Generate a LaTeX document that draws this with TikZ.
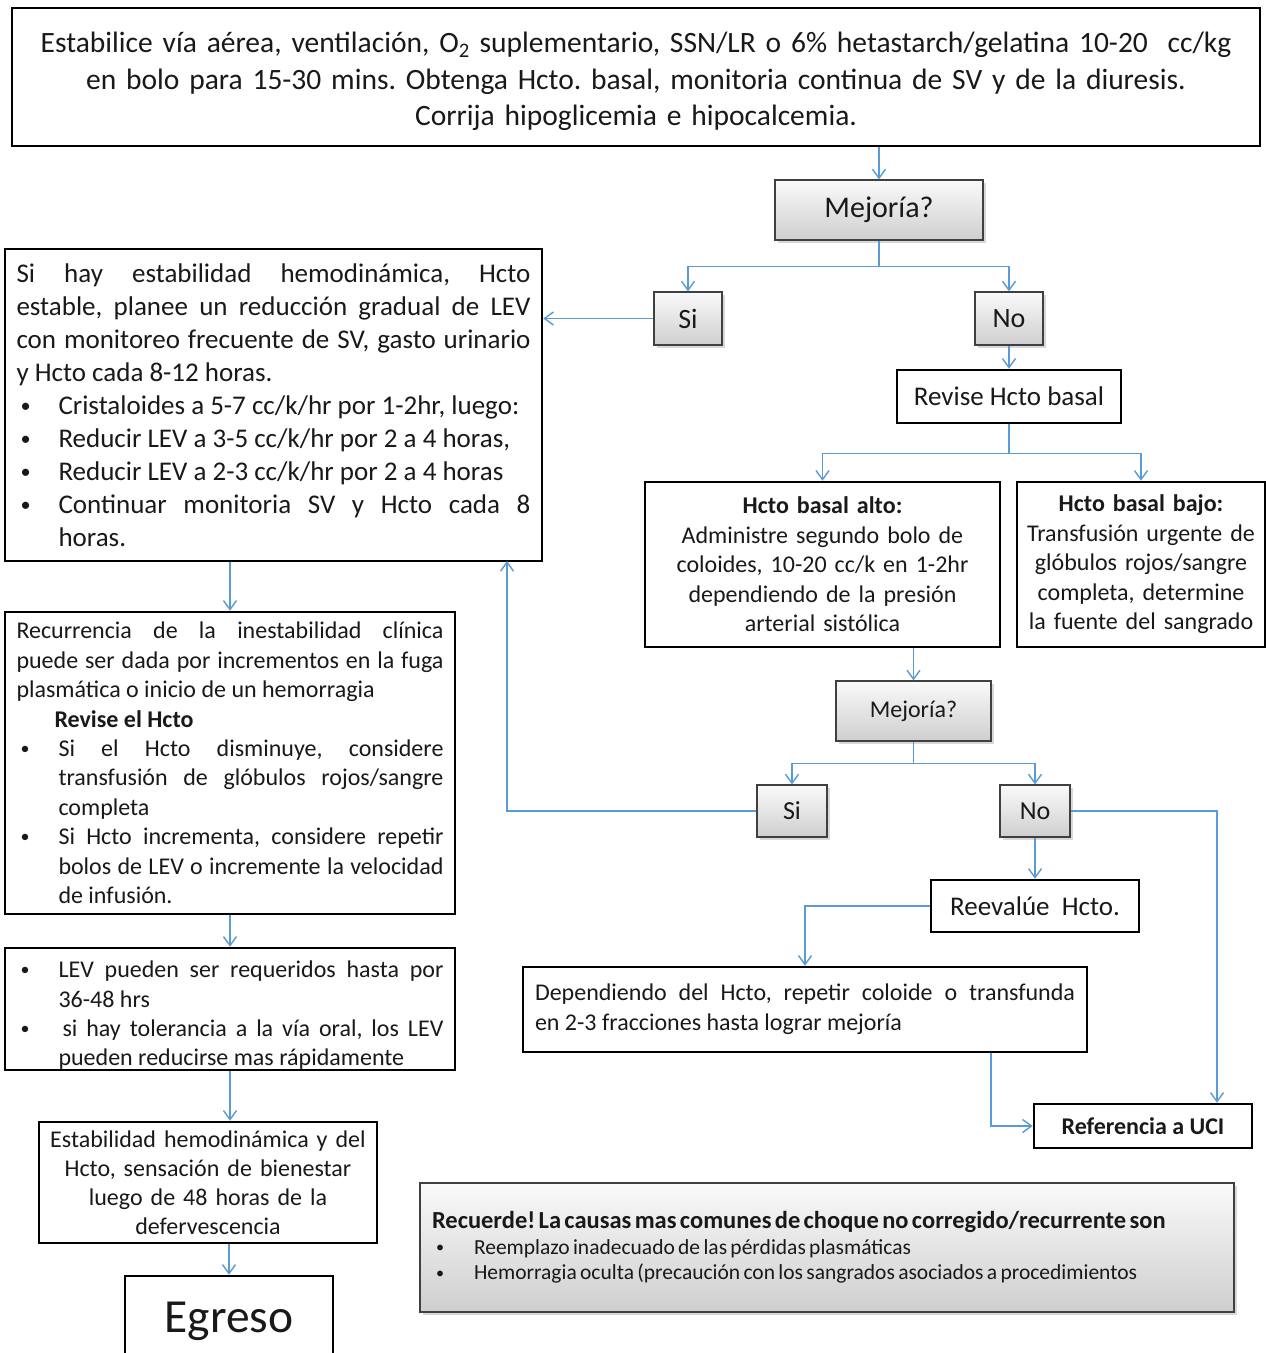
\documentclass[tikz,border=0pt]{standalone}
\usepackage{fontspec}
\setmainfont{Carlito}
\usetikzlibrary{arrows.meta,shadows}

\definecolor{linkblue}{RGB}{91,155,213}
\newcommand{\fsz}[2]{\fontsize{#1}{#2}\selectfont}
\newcommand{\bitem}[1]{\par\hangindent=42pt\hangafter=1\noindent\makebox[42pt][l]{\hspace{4pt}\raisebox{0.08em}{\scalebox{0.75}{\textbullet}}}#1}
\frenchspacing

\begin{document}
\begin{tikzpicture}[x=1pt,y=-1pt,
  >={Straight Barb[length=9pt,width=13pt]},
  plainbox/.style={draw=black, line width=2.5pt, fill=white, inner sep=0pt, text=black!90},
  askbox/.style={draw=black!75, line width=1.2pt, top color=gray!4, bottom color=gray!38,
    drop shadow={shadow xshift=3pt,shadow yshift=-3pt,opacity=.3}, inner sep=0pt, text=black!90},
  link/.style={draw=linkblue, line width=1.4pt}]
\useasboundingbox[fill=white] (0,0) rectangle (1266,1353);

% right column
\node[plainbox, minimum width=1248, minimum height=138, text width=1240, align=center, font=\fsz{29.5}{36.5}] (start) at (636,77)
  {\rule{0pt}{30pt}Estabilice vía aérea, ventilación, O\textsubscript{2} suplementario, SSN/LR o 6\% hetastarch/gelatina 10-20~ cc/kg\\
   en bolo para 15-30 mins. Obtenga Hcto. basal, monitoria continua de SV y de la diuresis.\\
   Corrija hipoglicemia e hipocalcemia.};
\node[askbox, minimum width=208, minimum height=60, font=\fsz{30}{36}] (mej1) at (879,210) {Mejoría?};
\node[askbox, minimum width=68, minimum height=53, font=\fsz{28}{34}] (si1) at (688,318.5) {Si};
\node[askbox, minimum width=68, minimum height=53, font=\fsz{28}{34}] (no1) at (1009,318.5) {No};
\node[plainbox, minimum width=224, minimum height=53, font=\fsz{27}{32}] (revise) at (1009,396.5) {Revise Hcto basal};
\node[plainbox, minimum width=355, minimum height=165, text width=340, align=center, font=\fsz{24}{29.5}] (alto) at (822.5,564.5)
  {\textbf{Hcto basal alto:}\\Administre segundo bolo de\\coloides, 10-20 cc/k en 1-2hr\\dependiendo de la presión\\arterial sistólica};
\node[plainbox, minimum width=248, minimum height=165, text width=240, align=center, font=\fsz{24}{29.5}] (bajo) at (1141,564.5)
  {\textbf{Hcto basal bajo:}\\Transfusión urgente de\\glóbulos rojos/sangre\\completa, determine\\la fuente del sangrado};
\node[askbox, minimum width=155, minimum height=60, font=\fsz{24}{29}] (mej2) at (913.5,711) {Mejoría?};
\node[askbox, minimum width=70, minimum height=52, font=\fsz{26}{32}] (si2) at (792,811) {Si};
\node[askbox, minimum width=70, minimum height=52, font=\fsz{26}{32}] (no2) at (1035,811) {No};
\node[plainbox, minimum width=208, minimum height=52, font=\fsz{27}{33}] (reeval) at (1035,906) {Reevalúe~ Hcto.};
\node[plainbox, minimum width=564, minimum height=85, text width=540, align=justify, font=\fsz{24}{30}] (depend) at (805,1009.5)
  {Dependiendo del Hcto, repetir coloide o transfunda\linebreak en 2-3 fracciones hasta lograr mejoría};
\node[plainbox, minimum width=218, minimum height=44, font=\fsz{24}{29}\bfseries] (uci) at (1143,1126) {Referencia a UCI};
\node[askbox, minimum width=814, minimum height=129, text width=790, align=left] (recuerde) at (827,1247.5)
  {{\fsz{24.5}{28}\bfseries Recuerde! La causas mas comunes de choque no corregido/recurrente son\par}
   {\fsz{21.5}{25.5}\bitem{Reemplazo inadecuado de las pérdidas plasmáticas}
   \bitem{Hemorragia oculta (precaución con los sangrados asociados a procedimientos}\par}};

% left column
\node[plainbox, minimum width=537, minimum height=312, text width=514, align=justify, font=\fsz{27}{33}] (estable) at (273.5,405)
  {Si hay estabilidad hemodinámica, Hcto\linebreak
   estable, planee un reducción gradual de LEV\linebreak
   con monitoreo frecuente de SV, gasto urinario\linebreak
   y Hcto cada 8-12 horas.
   \bitem{Cristaloides a 5-7 cc/k/hr por 1-2hr, luego:}
   \bitem{Reducir LEV a 3-5 cc/k/hr por 2 a 4 horas,}
   \bitem{Reducir LEV a 2-3 cc/k/hr por 2 a 4 horas}
   \bitem{Continuar monitoria SV y Hcto cada 8\linebreak horas.}\par};
\node[plainbox, minimum width=450, minimum height=302, text width=427, align=justify, font=\fsz{24}{29.4}] (recur) at (230,763)
  {Recurrencia de la inestabilidad clínica\linebreak
   puede ser dada por incrementos en la fuga\linebreak
   plasmática o inicio de un hemorragia\par
   \noindent\hspace*{38pt}\textbf{Revise el Hcto}
   \bitem{Si el Hcto disminuye, considere\linebreak transfusión de glóbulos rojos/sangre\linebreak completa}
   \bitem{Si Hcto incrementa, considere repetir\linebreak bolos de LEV o incremente la velocidad\linebreak de infusión.}\par};
\node[plainbox, minimum width=450, minimum height=122, text width=427, align=justify, font=\fsz{24}{29.3}] (lev) at (230,1009)
  {\bitem{LEV pueden ser requeridos hasta por\linebreak 36-48 hrs}
   \bitem{\hspace*{4pt}si hay tolerancia a la vía oral, los LEV\linebreak pueden reducirse mas rápidamente}\par};
\node[plainbox, minimum width=338, minimum height=121, text width=320, align=center, font=\fsz{24}{29}] (estab) at (208,1182.5)
  {Estabilidad hemodinámica y del\\Hcto, sensación de bienestar\\luego de 48 horas de la\\defervescencia};
\node[plainbox, minimum width=208, minimum height=90, font=\fsz{47.5}{50}] (egreso) at (229,1321) {Egreso};
\coordinate (estin) at (507,561);

% connectors
\draw[link,->] (start.south -| mej1.north) -- (mej1.north);
\draw[link,->] (mej1.south) -- ++(0,26) -| (si1.north);
\draw[link,->] (mej1.south) -- ++(0,26) -| (no1.north);
\draw[link,->] (si1.west) -- (si1.west -| estable.east);
\draw[link,->] (no1.south) -- (revise.north);
\draw[link,->] (revise.south) -- ++(0,29) -| (alto.north);
\draw[link,->] (revise.south) -- ++(0,29) -| (bajo.north);
\draw[link,->] (mej2.north |- alto.south) -- (mej2.north);
\draw[link,->] (mej2.south) -- ++(0,22) -| (si2.north);
\draw[link,->] (mej2.south) -- ++(0,22) -| (no2.north);
\draw[link,->] (si2.west) -| (estin);
\draw[link,->] (no2.east) -| ([xshift=74pt]uci.north);
\draw[link,->] (no2.south) -- (reeval.north);
\draw[link,->] (reeval.west) -| (depend.north);
\draw[link,->] ([xshift=186pt]depend.south) |- (uci.west);
\draw[link,->] (recur.north |- estable.south) -- (recur.north);
\draw[link,->] (recur.south) -- (lev.north);
\draw[link,->] (lev.south) -- (lev.south |- estab.north);
\draw[link,->] (egreso.north |- estab.south) -- (egreso.north);
\end{tikzpicture}
\end{document}
